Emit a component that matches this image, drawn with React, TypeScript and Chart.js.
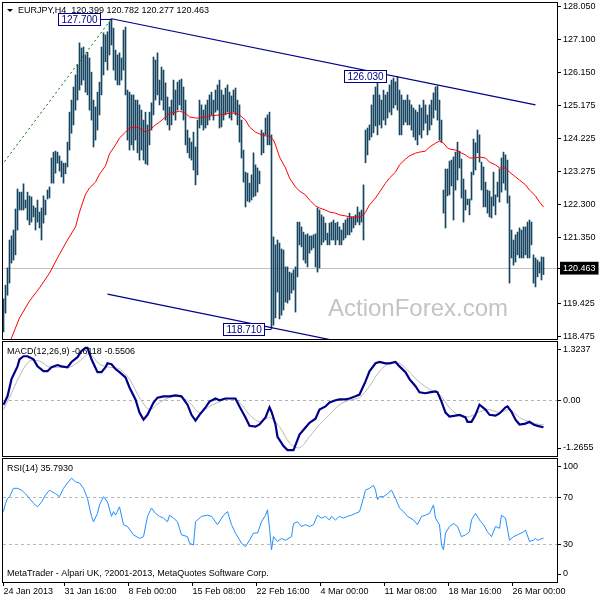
import React, { useEffect, useRef } from 'react';
import { Chart, registerables } from 'chart.js';

Chart.register(...registerables);

// ---------- header / labels ----------
const SYMBOL = 'EURJPY,H4';
const LAST_OHLC = [120.399, 120.782, 120.277, 120.463];
const FOOTER = 'MetaTrader - Alpari UK, ?2001-2013, MetaQuotes Software Corp.';
const WATERMARK = 'ActionForex.com';

// ---------- price bars (H4 high / low) ----------
const highs = [
  119.57,119.97,120.47,121.28,121.40,121.57,122.18,122.76,122.67,122.67,
  122.91,122.44,122.67,122.56,122.53,122.27,122.21,122.44,122.09,122.21,
  122.56,122.44,122.73,122.82,123.66,123.83,123.86,123.83,123.72,123.57,
  123.51,123.51,124.12,124.99,125.34,125.72,126.07,126.36,127.00,126.85,
  126.88,126.65,126.73,126.56,126.15,125.34,125.14,125.57,125.86,126.88,
  127.29,127.23,127.32,127.61,127.70,127.43,126.79,126.65,126.71,126.56,
  127.37,127.46,125.63,125.57,125.49,125.49,125.34,125.34,125.20,125.05,
  124.76,124.99,124.62,124.99,125.26,126.59,126.50,126.71,125.92,126.30,
  126.21,125.84,125.43,125.14,125.34,125.92,125.63,125.86,125.92,125.95,
  125.72,125.34,124.47,124.24,124.12,124.41,123.98,124.76,125.34,125.20,
  125.05,125.20,125.34,125.49,125.57,125.34,125.63,125.78,125.92,125.63,
  125.49,125.69,125.78,125.57,125.46,125.63,125.69,125.34,125.20,124.76,
  123.89,123.25,123.22,122.93,123.17,123.81,123.46,123.37,123.28,124.47,
  124.39,124.82,124.91,124.99,124.33,121.37,121.14,121.28,121.19,121.02,
  120.99,120.50,120.50,120.35,120.32,120.41,120.50,121.80,121.80,121.66,
  121.51,121.43,121.46,121.40,121.40,121.43,121.46,122.21,122.15,122.01,
  121.95,121.77,121.48,121.77,121.80,121.86,121.77,121.80,121.66,121.57,
  121.77,121.86,121.92,122.06,121.95,121.95,122.01,122.24,122.09,122.15,
  122.88,124.47,124.53,124.62,125.20,125.49,125.72,126.03,125.49,125.34,
  125.63,125.49,125.57,125.78,125.92,125.98,125.87,126.01,125.63,125.49,
  125.34,125.34,125.49,125.34,125.20,125.11,125.05,124.99,125.20,125.11,
  125.34,125.20,124.91,125.20,125.34,125.55,125.72,125.75,125.34,124.76,
  122.73,123.34,123.34,123.57,123.60,123.69,123.83,124.12,123.86,123.63,
  123.05,122.73,122.47,122.47,123.25,124.21,124.10,124.47,124.33,123.54,
  123.40,122.96,122.73,122.70,122.53,123.25,122.59,122.96,123.34,123.66,
  123.83,123.75,123.60,122.56,121.57,121.28,121.43,121.51,121.63,121.57,
  121.66,121.66,121.80,121.86,121.80,120.85,120.76,120.70,120.64,120.79,
  120.782,
];
const lows = [
  118.61,119.16,119.68,120.03,120.61,120.70,120.85,121.57,122.15,122.15,
  122.15,122.21,121.86,121.72,121.80,121.95,121.57,121.80,121.63,121.28,
  121.77,122.01,122.47,122.50,122.93,122.93,123.22,123.51,123.28,123.11,
  122.93,123.20,123.40,123.89,124.38,124.62,125.05,125.34,125.63,125.78,
  125.92,125.57,125.49,125.05,124.76,123.98,124.18,124.47,124.91,125.49,
  126.07,126.45,126.21,126.65,126.94,126.21,125.92,125.78,125.78,125.92,
  126.21,125.49,124.18,123.89,124.04,123.89,124.18,123.81,123.60,123.89,
  123.60,123.49,123.46,124.04,124.47,124.91,125.34,125.49,125.20,125.34,
  125.05,124.76,124.62,124.47,124.62,124.91,124.76,125.05,125.20,125.05,
  124.76,124.04,123.81,123.66,123.60,123.31,122.88,123.17,124.53,124.62,
  124.47,124.53,124.62,124.76,124.91,124.76,124.99,125.05,124.53,124.56,
  124.76,124.91,124.99,124.82,124.76,124.99,124.91,124.62,124.12,123.66,
  122.96,122.24,122.41,122.38,122.44,122.53,122.56,122.67,122.91,123.75,
  123.81,124.33,124.04,124.04,118.71,118.81,119.02,119.77,118.99,119.10,
  119.25,119.48,119.45,119.54,119.74,119.83,119.19,120.21,121.14,121.08,
  120.70,120.61,120.50,120.90,120.99,121.05,120.50,120.35,120.47,121.14,
  121.22,121.28,121.14,121.14,121.28,121.28,121.14,121.28,121.14,121.14,
  121.28,121.34,121.43,121.43,121.51,121.63,121.72,121.80,121.72,121.80,
  121.28,123.52,123.75,124.18,124.27,124.39,124.59,124.33,124.62,124.53,
  124.76,124.62,124.82,124.99,124.91,125.11,125.20,125.05,124.33,124.33,
  124.62,124.70,124.62,124.62,124.47,124.27,124.18,124.04,124.33,124.24,
  124.47,124.67,124.33,124.47,124.62,124.82,125.05,124.76,124.18,124.12,
  122.06,121.63,122.56,122.59,122.85,121.86,122.73,123.02,123.37,122.50,
  121.80,122.15,122.30,122.01,122.44,123.17,123.31,123.81,123.54,122.73,
  122.24,122.24,122.06,121.95,121.92,122.27,122.01,122.53,122.38,122.67,
  122.93,122.73,122.35,120.03,120.76,120.55,120.64,120.85,120.76,120.76,
  120.76,120.85,120.76,120.76,121.14,120.03,119.92,120.21,120.32,120.12,
  120.277,
];

// ---------- moving average (red) ----------
const maIdx = [0,4,8,13,18,23,28,32,36,38,41,43,46,48,51,53,56,58,61,63,66,68,71,73,76,78,81,83,86,88,91,93,96,98,103,108,113,116,118,121,123,126,128,131,133,135,136,138,141,143,146,148,151,153,156,158,161,163,166,168,171,173,176,178,180,181,183,186,188,191,193,196,198,201,203,206,208,211,213,216,218,220,222,223,226,228,231,233,236,238,241,243,246,248,251,253,256,258,261,263,266,268,270];
const maVal = [118.0,118.44,119.02,119.51,119.89,120.32,120.87,121.28,121.66,122.09,122.61,122.79,122.96,123.19,123.43,123.78,124.04,124.24,124.41,124.53,124.56,124.53,124.41,124.47,124.62,124.70,124.85,124.96,124.99,125.02,124.96,124.85,124.82,124.82,124.88,124.91,124.96,124.96,124.91,124.76,124.56,124.41,124.36,124.30,124.30,124.18,124.04,123.69,123.37,123.08,122.82,122.70,122.59,122.44,122.27,122.21,122.15,122.09,122.06,122.01,121.98,121.95,121.95,121.95,122.01,122.09,122.30,122.50,122.67,122.93,123.08,123.25,123.46,123.63,123.72,123.80,123.83,123.86,123.98,124.09,124.15,124.09,123.95,123.92,123.89,123.83,123.75,123.66,123.66,123.69,123.66,123.54,123.46,123.37,123.37,123.25,123.11,123.02,122.88,122.73,122.56,122.38,122.24];

// ---------- trend lines ----------
const upperTrendIdx = [54, 266];
const upperTrendVal = [127.70, 125.20];
const lowerTrendIdx = [52, 170];
const lowerTrendVal = [119.71, 118.31];
const fanIdx = [-1, 54];
const fanVal = [123.44, 127.70];

// ---------- price label boxes ----------
const boxPrices = [127.70, 126.03, 118.71];
const boxAnchorIdx = [48, 191, 130];
const boxPeakIdx = [54, 187, 134];

// ---------- MACD ----------
const macdIdx = [0,2,4,7,8,10,12,15,17,20,22,24,27,29,32,34,37,39,41,42,44,47,49,51,52,54,56,58,61,63,66,68,70,72,75,77,80,83,86,89,92,94,96,98,101,103,106,108,111,113,116,118,121,123,126,128,131,133,134,136,137,140,142,145,147,148,151,153,156,158,161,163,166,168,171,173,176,178,181,183,186,188,191,193,196,198,201,203,206,208,211,213,216,217,219,221,223,226,228,231,232,234,236,238,241,243,246,248,251,252,254,256,258,261,263,265,267,270];
const macdVal = [-0.10,0.09,0.48,0.77,0.93,1.00,1.00,0.93,0.77,0.66,0.66,0.75,0.80,0.77,0.75,0.87,0.98,1.12,1.19,1.19,0.93,0.64,0.64,0.75,0.84,0.82,0.71,0.64,0.52,0.29,0.02,-0.28,-0.44,-0.33,-0.05,0.06,0.09,0.09,0.11,0.09,-0.10,-0.33,-0.46,-0.33,-0.16,-0.03,0.04,0.00,0.04,0.04,0.04,-0.14,-0.39,-0.58,-0.60,-0.55,-0.39,-0.16,-0.26,-0.55,-0.83,-1.04,-1.13,-1.13,-0.90,-0.78,-0.62,-0.51,-0.42,-0.21,-0.14,-0.05,0.00,0.02,0.02,0.04,0.09,0.13,0.43,0.66,0.84,0.87,0.84,0.84,0.87,0.77,0.64,0.48,0.32,0.18,0.16,0.18,0.20,0.18,-0.03,-0.28,-0.37,-0.35,-0.33,-0.39,-0.49,-0.49,-0.33,-0.10,-0.21,-0.33,-0.35,-0.30,-0.16,-0.14,-0.26,-0.44,-0.55,-0.53,-0.49,-0.55,-0.58,-0.6118];
const sigIdx = [0,3,8,13,18,23,28,33,38,43,48,53,58,63,68,73,78,83,88,93,98,103,108,113,118,123,128,133,138,143,148,153,158,163,168,173,178,183,188,193,198,203,208,213,218,223,228,233,238,243,248,253,258,263,268,270];
const sigVal = [-0.21,0.06,0.55,0.89,0.89,0.75,0.75,0.75,0.89,1.05,0.82,0.75,0.71,0.48,0.06,-0.21,-0.05,0.06,0.09,-0.05,-0.28,-0.14,-0.03,0.04,-0.05,-0.33,-0.49,-0.39,-0.60,-0.97,-1.08,-0.83,-0.55,-0.33,-0.10,0.00,0.06,0.32,0.66,0.84,0.84,0.64,0.41,0.25,0.13,-0.17,-0.35,-0.37,-0.26,-0.21,-0.28,-0.21,-0.39,-0.49,-0.55,-0.5506];
const MACD_MIN = -1.2655;
const MACD_MAX = 1.3237;

// ---------- RSI ----------
const rsiIdx = [0,1,2,3,5,7,9,11,13,15,17,19,21,23,24,26,28,30,32,34,36,38,40,42,44,45,47,48,50,52,54,55,56,58,60,62,65,68,70,72,74,76,78,80,82,83,85,87,89,92,93,95,96,99,102,104,107,110,112,114,116,119,121,123,125,127,129,131,132,133,134,135,137,139,141,144,145,147,149,151,153,155,157,159,161,163,164,166,168,170,172,174,176,178,179,181,183,185,186,187,188,190,192,194,196,198,200,202,205,207,209,211,213,215,216,218,219,220,221,223,225,227,229,231,233,234,236,238,240,242,244,246,248,249,251,253,255,257,260,261,263,265,266,267,268,270];
const rsiVal = [58,65,69,70.5,77.5,77.5,76,73,69,65,62,66,72,76,75,73,70.5,77.5,82,86,83,82,77.5,69,54,49.5,56.5,63.5,70.5,66,54,58,55,62,47,45.5,38.5,35.5,37,54,61,56.5,54,52.5,49.5,55,52.5,49.5,38.5,37,31.5,30,49.5,54,55,54,47,55,58,47,40,31.5,28.6,34,40,40,49.5,55,59.5,44,26,37,33,35.5,34,37,48,49.5,45.5,47,45.5,47,55,52.5,54,51,54,51,54,52.5,54,55,56.5,58,63.5,76,77.5,80,76,68,70.5,70.5,73,76,69,61,58,54,51,47,54,55,56.5,63.5,52.5,47,30,26,40,45.5,48,45.5,37,38.5,41,51,56.5,51,47,41,37,45.5,44,55,52.5,34,37,38.5,41,42.5,33,34,35.5,34,34.5,35.793];
const RSI_LEVELS = [70, 30];
const RSI_MIN = -1.03;
const RSI_MAX = 102.1;

// ---------- axes ----------
const priceTicks = [128.05, 127.1, 126.15, 125.175, 124.225, 123.275, 122.3, 121.35, 120.463, 119.425, 118.475];
const PRICE_MIN = 118.408;
const PRICE_MAX = 128.157;
const timeTickIdx = [0, 30.5, 62.5, 94.5, 126.5, 158.5, 190.5, 222.5, 254.5];
const timeLabels = ['24 Jan 2013', '31 Jan 16:00', '8 Feb 00:00', '15 Feb 08:00', '22 Feb 16:00', '4 Mar 00:00', '11 Mar 08:00', '18 Mar 16:00', '26 Mar 00:00'];
const X_MIN = -0.25;
const X_MAX = 276.75;

// ---------- style ----------
const FAMILY = '"Liberation Sans", Arial, sans-serif';
const FONT = { family: FAMILY, size: 9 };
const AXIS_W = 43;
const BAR_COLOR = '#154560';
const NAVY = '#000088';
const EDGE_INSET = 8; // px that MetaTrader pushes the min/max labels inside a sub-window

const pts = (xs: number[], ys: number[]) => xs.map((x, i) => ({ x, y: ys[i] }));
const last = (a: number[]) => a[a.length - 1];

const framePlugin = {
  id: 'frame',
  afterDraw(chart: any) {
    const { ctx, chartArea: a } = chart;
    ctx.save();
    ctx.strokeStyle = '#000';
    ctx.lineWidth = 1;
    ctx.strokeRect(Math.round(a.left) - 0.5, Math.round(a.top) - 0.5, Math.round(a.right - a.left) + 1, Math.round(a.bottom - a.top) + 1);
    ctx.restore();
  },
};

const hiddenX: any = { type: 'linear', min: X_MIN, max: X_MAX, offset: false, display: false };

function rightAxis(min: number, max: number, areaH: number, ticks: { value: number; label: string; edge?: number }[], gridColor: (v: number) => string, labelOpts: any = {}) {
  const unitPerPx = (max - min) / areaH;
  return {
    type: 'linear',
    position: 'right',
    min,
    max,
    afterFit: (s: any) => {
      s.width = AXIS_W;
      s.paddingTop = 0;
      s.paddingBottom = 0;
    },
    afterBuildTicks: (s: any) => {
      s.ticks = ticks.map((t) => ({ value: t.edge ? t.value - t.edge * EDGE_INSET * unitPerPx : t.value }));
    },
    grid: {
      color: (c: any) => (c.tick ? gridColor(c.index) : 'rgba(0,0,0,0)'),
      drawTicks: true,
      tickLength: 4,
      tickColor: '#000',
      lineWidth: 1,
    },
    border: { display: false, dash: labelOpts.dash || [] },
    ticks: {
      padding: 2,
      font: FONT,
      color: labelOpts.color || '#000',
      callback: (_v: any, i: number) => ticks[i].label,
      showLabelBackdrop: labelOpts.showLabelBackdrop || false,
      backdropColor: labelOpts.backdropColor || 'rgba(0,0,0,0)',
      backdropPadding: { top: 1, bottom: 1, left: 3, right: 3 },
    },
  };
}

export default function App() {
  const mainRef = useRef<HTMLCanvasElement>(null);
  const macdRef = useRef<HTMLCanvasElement>(null);
  const rsiRef = useRef<HTMLCanvasElement>(null);

  useEffect(() => {
    const charts: Chart[] = [];
    const lastPrice = last(LAST_OHLC);

    // ---------------- main price panel ----------------
    const mainText = {
      id: 'mainText',
      beforeDatasetsDraw(chart: any) {
        const { ctx, chartArea: a } = chart;
        ctx.save();
        ctx.fillStyle = '#c4c4c4';
        ctx.font = `24px ${FAMILY}`;
        ctx.textAlign = 'left';
        ctx.textBaseline = 'alphabetic';
        ctx.fillText(WATERMARK, a.left + 325, a.top + 313);
        ctx.restore();
      },
      afterDatasetsDraw(chart: any) {
        const { ctx } = chart;
        const xs = chart.scales.x;
        const ys = chart.scales.y;
        ctx.save();
        ctx.font = `10px ${FAMILY}`;
        boxPrices.forEach((p, i) => {
          const txt = p.toFixed(3);
          const y = Math.round(ys.getPixelForValue(p)) + 0.5;
          const xr = Math.round(xs.getPixelForValue(boxAnchorIdx[i])) + 0.5;
          const xp = xs.getPixelForValue(boxPeakIdx[i]);
          const w = Math.round(ctx.measureText(txt).width) + 6;
          ctx.strokeStyle = NAVY;
          ctx.lineWidth = 1;
          ctx.beginPath();
          ctx.moveTo(xr, y);
          ctx.lineTo(xp, y);
          ctx.stroke();
          ctx.fillStyle = '#fff';
          ctx.fillRect(xr - w, y - 6, w, 12);
          ctx.strokeRect(xr - w, y - 6, w, 12);
          ctx.fillStyle = NAVY;
          ctx.textAlign = 'left';
          ctx.textBaseline = 'middle';
          ctx.fillText(txt, xr - w + 3, y + 0.5);
        });
        ctx.restore();
      },
      afterDraw(chart: any) {
        const { ctx, chartArea: a } = chart;
        ctx.save();
        ctx.fillStyle = '#000';
        const tx = a.left + 4;
        const ty = a.top + 6;
        ctx.beginPath();
        ctx.moveTo(tx, ty);
        ctx.lineTo(tx + 6, ty);
        ctx.lineTo(tx + 3, ty + 3);
        ctx.closePath();
        ctx.fill();
        ctx.font = `9px ${FAMILY}`;
        ctx.textAlign = 'left';
        ctx.textBaseline = 'middle';
        ctx.fillText(`${SYMBOL}  ${LAST_OHLC.map((v) => v.toFixed(3)).join(' ')}`, a.left + 15, a.top + 8);
        ctx.restore();
      },
    };

    const mainTicks = priceTicks.map((v) => ({ value: v, label: v.toFixed(3) }));
    const lastIdx = priceTicks.indexOf(lastPrice);

    charts.push(
      new Chart(mainRef.current as HTMLCanvasElement, {
        type: 'bar',
        data: {
          datasets: [
            {
              type: 'line',
              data: pts(upperTrendIdx, upperTrendVal),
              borderColor: NAVY,
              borderWidth: 1.2,
              pointRadius: 0,
              order: 0,
            } as any,
            {
              type: 'line',
              data: pts(lowerTrendIdx, lowerTrendVal),
              borderColor: NAVY,
              borderWidth: 1.2,
              pointRadius: 0,
              order: 0,
            } as any,
            {
              type: 'line',
              data: pts(fanIdx, fanVal),
              borderColor: '#007000',
              borderWidth: 1,
              borderDash: [2, 3],
              pointRadius: 0,
              order: 0,
            } as any,
            {
              type: 'line',
              data: pts(maIdx, maVal),
              borderColor: '#ff0000',
              borderWidth: 1,
              pointRadius: 0,
              tension: 0,
              order: 1,
            } as any,
            {
              type: 'bar',
              data: highs.map((h, i) => ({ x: i, y: [lows[i], h] })),
              backgroundColor: BAR_COLOR,
              borderWidth: 0,
              barThickness: 1,
              order: 2,
            } as any,
          ],
        },
        options: {
          animation: false,
          responsive: false,
          devicePixelRatio: 1,
          layout: { padding: { left: 3, top: 3, right: 0, bottom: 9 } },
          plugins: { legend: { display: false }, tooltip: { enabled: false } },
          scales: {
            x: hiddenX,
            y: rightAxis(PRICE_MIN, PRICE_MAX, 336, mainTicks, (i) => (i === lastIdx ? '#c0c0c0' : 'rgba(0,0,0,0)'), {
              color: (c: any) => (c.index === lastIdx ? '#fff' : '#000'),
              showLabelBackdrop: (c: any) => c.index === lastIdx,
              backdropColor: '#000',
            }),
          } as any,
        },
        plugins: [mainText, framePlugin],
      } as any)
    );

    // ---------------- MACD panel ----------------
    const macdTicks = [
      { value: MACD_MAX, label: MACD_MAX.toFixed(4), edge: 1 },
      { value: 0, label: '0.00' },
      { value: MACD_MIN, label: MACD_MIN.toFixed(4), edge: -1 },
    ];
    const macdText = {
      id: 'macdText',
      afterDatasetsDraw(chart: any) {
        const { ctx, chartArea: a } = chart;
        ctx.save();
        ctx.fillStyle = '#000';
        ctx.font = `9px ${FAMILY}`;
        ctx.textAlign = 'left';
        ctx.textBaseline = 'middle';
        ctx.fillText(`MACD(12,26,9) ${last(macdVal).toFixed(4)} ${last(sigVal).toFixed(4)}`, a.left + 4, a.top + 9.5);
        ctx.restore();
      },
    };
    charts.push(
      new Chart(macdRef.current as HTMLCanvasElement, {
        type: 'line',
        data: {
          datasets: [
            { data: pts(macdIdx, macdVal), borderColor: NAVY, borderWidth: 2.2, pointRadius: 0, order: 0 },
            { data: pts(sigIdx, sigVal), borderColor: '#b8b8b8', borderWidth: 1, pointRadius: 0, tension: 0.3, order: 1 },
          ],
        },
        options: {
          animation: false,
          responsive: false,
          devicePixelRatio: 1,
          layout: { padding: { left: 3, top: 2, right: 0, bottom: 2 } },
          plugins: { legend: { display: false }, tooltip: { enabled: false } },
          scales: {
            x: hiddenX,
            y: rightAxis(MACD_MIN, MACD_MAX, 114, macdTicks, (i) => (i === 1 ? '#b0b0b0' : 'rgba(0,0,0,0)'), { dash: [3, 3] }),
          } as any,
        },
        plugins: [macdText, framePlugin],
      } as any)
    );

    // ---------------- RSI panel ----------------
    const rsiTicks = [
      { value: RSI_MAX, label: '100', edge: 1 },
      { value: RSI_LEVELS[0], label: String(RSI_LEVELS[0]) },
      { value: RSI_LEVELS[1], label: String(RSI_LEVELS[1]) },
      { value: RSI_MIN, label: '0', edge: -1 },
    ];
    const rsiText = {
      id: 'rsiText',
      afterDatasetsDraw(chart: any) {
        const { ctx, chartArea: a } = chart;
        ctx.save();
        ctx.fillStyle = '#000';
        ctx.font = `9px ${FAMILY}`;
        ctx.textAlign = 'left';
        ctx.textBaseline = 'middle';
        ctx.fillText(`RSI(14) ${last(rsiVal).toFixed(4)}`, a.left + 4, a.top + 10);
        ctx.fillText(FOOTER, a.left + 4, a.bottom - 8);
        ctx.restore();
      },
    };
    charts.push(
      new Chart(rsiRef.current as HTMLCanvasElement, {
        type: 'line',
        data: {
          datasets: [{ data: pts(rsiIdx, rsiVal), borderColor: '#1e90ff', borderWidth: 1, pointRadius: 0 }],
        },
        options: {
          animation: false,
          responsive: false,
          devicePixelRatio: 1,
          layout: { padding: { left: 3, top: 2, right: 0, bottom: 0 } },
          plugins: { legend: { display: false }, tooltip: { enabled: false } },
          scales: {
            x: {
              type: 'linear',
              min: X_MIN,
              max: X_MAX,
              offset: false,
              position: 'bottom',
              afterBuildTicks: (s: any) => { s.ticks = timeTickIdx.map((v) => ({ value: v })); },
              afterFit: (s: any) => {
                s.height = 18;
                s.paddingLeft = 0;
                s.paddingRight = 0;
              },
              grid: { drawOnChartArea: false, drawTicks: true, tickLength: 4, tickColor: '#000' },
              border: { display: false },
              ticks: {
                autoSkip: false,
                maxRotation: 0,
                minRotation: 0,
                align: 'start',
                padding: 0,
                font: FONT,
                color: '#000',
                callback: (_v: any, i: number) => timeLabels[i],
              },
            },
            y: rightAxis(RSI_MIN, RSI_MAX, 123, rsiTicks, (i) => (i === 1 || i === 2 ? '#b8b8b8' : 'rgba(0,0,0,0)'), { dash: [3, 3] }),
          } as any,
        },
        plugins: [rsiText, framePlugin],
      } as any)
    );

    return () => charts.forEach((c) => c.destroy());
  }, []);

  return (
    <div style={{ position: 'absolute', left: 0, top: 0, width: 600, height: 600, background: '#fff', overflow: 'hidden' }}>
      <canvas ref={mainRef} width={600} height={348} style={{ position: 'absolute', left: 0, top: 0 }} />
      <canvas ref={macdRef} width={600} height={118} style={{ position: 'absolute', left: 0, top: 340 }} />
      <canvas ref={rsiRef} width={600} height={143} style={{ position: 'absolute', left: 0, top: 457 }} />
    </div>
  );
}
